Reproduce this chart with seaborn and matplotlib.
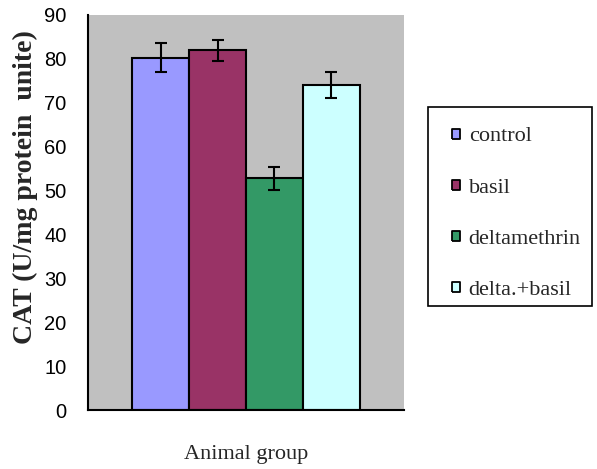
import pandas as pd
import matplotlib.pyplot as plt
from matplotlib.lines import Line2D
from matplotlib.patches import Rectangle
import seaborn as sns

# Values
groups = ['control', 'basil', 'deltamethrin', 'delta.+basil']
cat_values = [80.3, 82.0, 52.8, 74.0]
cat_errors = [3.3, 2.4, 2.6, 3.0]
bar_colors = ['#9999ff', '#993366', '#339966', '#ccffff']

df = pd.DataFrame({'x': ['Animal group'] * 4, 'group': groups, 'CAT': cat_values})

sns.set_style('white')
fig = plt.figure(figsize=(5.97, 4.69), dpi=100)
ax = fig.add_axes([88 / 597, 1 - 410 / 469, 316 / 597, 395 / 469])
ax.set_facecolor('#c0c0c0')

sns.barplot(data=df, x='x', y='CAT', hue='group', hue_order=groups,
            palette=bar_colors, saturation=1, width=0.72, errorbar=None,
            edgecolor='black', linewidth=1.5, ax=ax, legend=False)

# error bars placed on the drawn bars
for patch, err in zip(ax.patches, cat_errors):
    cx = patch.get_x() + patch.get_width() / 2
    ax.errorbar(cx, patch.get_height(), yerr=err, color='black',
                capsize=4.5, capthick=1.5, elinewidth=1.5)

ax.set_xlim(-0.5, 0.5)
ax.set_ylim(0, 90)
ax.set_yticks(range(0, 91, 10))
ax.set_xticks([-0.5, 0.5])
ax.set_xticklabels(['', ''])
ax.tick_params(axis='both', direction='out', length=6, width=1.2, colors='black')
ax.tick_params(axis='y', pad=9.5)
for lbl in ax.get_yticklabels():
    lbl.set_fontfamily('Liberation Sans')
    lbl.set_fontsize(14.5)

for side in ['top', 'right']:
    ax.spines[side].set_visible(False)
for side in ['left', 'bottom']:
    ax.spines[side].set_color('black')
    ax.spines[side].set_linewidth(1.5)

ax.set_xlabel('Animal group', fontfamily='Liberation Serif', fontsize=16, labelpad=16)
ax.set_ylabel('CAT (U/mg protein  unite)', fontfamily='Liberation Serif',
              fontsize=20, fontweight='bold')
ax.yaxis.set_label_coords(-0.158, 0.565)

# legend: frameless entries plus a separate box drawn in figure coords
box = [(-0.4, -0.5), (0.4, -0.5), (0.4, 0.5), (-0.4, 0.5), (-0.4, -0.5)]
handles = [Line2D([], [], linestyle='none', marker=box, markersize=7.5,
                  markerfacecolor=c, markeredgecolor='black', markeredgewidth=1.3)
           for c in bar_colors]
fig.legend(handles, groups, loc='upper left', bbox_to_anchor=(428 / 597, 1 - 117 / 469),
           prop={'family': 'Liberation Serif', 'size': 16}, frameon=False,
           handlelength=1.7, handletextpad=-0.27,
           labelspacing=1.38, borderpad=0.4, borderaxespad=0)
fig.patches.append(Rectangle((428 / 597, 1 - 306 / 469), 164 / 597, 199 / 469,
                             transform=fig.transFigure, fill=False,
                             edgecolor='black', linewidth=1.2))

plt.savefig('out.png', dpi=100)
